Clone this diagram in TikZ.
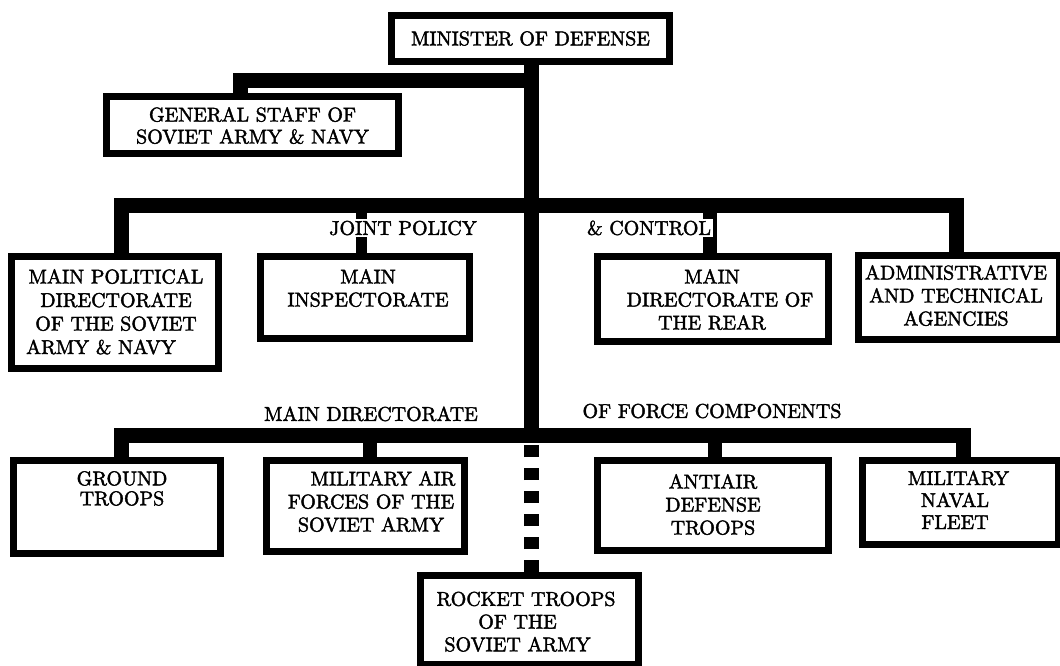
\documentclass[tikz,border=0pt]{standalone}
\usepackage{fontspec}
\newfontfamily\orgfont{lmroman10-regular.otf}[FakeBold=2]
\begin{document}
\begin{tikzpicture}[x=1pt,y=-1pt,
  box/.style={draw,line width=7pt,inner sep=0pt,rectangle,fill=white},
  txt/.style={font=\orgfont\fontsize{20}{23}\selectfont,align=center,inner sep=0pt,anchor=north},
  lbl/.style={font=\orgfont\fontsize{20}{23}\selectfont,inner sep=0pt,text height=13.7pt,text depth=0pt},
  bar/.style={line width=15pt,line join=miter,line cap=butt},
  link/.style={line width=14pt,line cap=butt}]
\useasboundingbox (0,0) rectangle (1060,666);
\clip (0,0) rectangle (1060,666);
\fill[white] (0,0) rectangle (1060,666);

% boxes
\node[box,minimum width=278pt,minimum height=46pt,font=\orgfont\fontsize{20}{23}\selectfont] (min) at (530.5,38.5) {MINISTER OF DEFENSE};
\node[box,minimum width=292pt,minimum height=57pt] (gs) at (252.5,125) {};
\node[box,minimum width=207pt,minimum height=112pt] (mpd) at (115,312.5) {};
\node[box,minimum width=209pt,minimum height=82pt] (mi) at (365,297.5) {};
\node[box,minimum width=231pt,minimum height=85pt] (rear) at (713,299) {};
\node[box,minimum width=201pt,minimum height=84pt] (admin) at (959,297.5) {};
\node[box,minimum width=207pt,minimum height=93pt] (gt) at (117,507) {};
\node[box,minimum width=198pt,minimum height=91pt] (af) at (365.5,506) {};
\node[box,minimum width=231pt,minimum height=90pt] (aa) at (713,505.5) {};
\node[box,minimum width=196pt,minimum height=84pt] (nf) at (960.5,502.5) {};
\node[box,minimum width=218pt,minimum height=89pt] (rt) at (529.5,620) {};

% box texts
\node[txt,font=\orgfont\fontsize{20}{22}\selectfont] (gs-t) at ([yshift=-14pt]gs.north) {GENERAL STAFF OF\\SOVIET ARMY \& NAVY};
\node[txt,font=\orgfont\fontsize{20}{23.5}\selectfont] (mpd-t) at ([xshift=1pt,yshift=-16pt]mpd.north) {MAIN POLITICAL\\DIRECTORATE\\OF THE SOVIET\\ARMY \& NAVY\hspace*{30pt}};
\node[txt] (mi-t) at ([xshift=3pt,yshift=-16pt]mi.north) {MAIN\\INSPECTORATE};
\node[txt] (rear-t) at ([xshift=-1pt,yshift=-16pt]rear.north) {MAIN\\\hspace*{16pt}DIRECTORATE OF\\THE REAR};
\node[txt] (admin-t) at ([xshift=-3pt,yshift=-13pt]admin.north) {ADMINISTRATIVE\\AND TECHNICAL\\AGENCIES};
\node[txt,font=\orgfont\fontsize{20}{20}\selectfont] (gt-t) at ([xshift=5pt,yshift=-14pt]gt.north) {GROUND\\TROOPS};
\node[txt] (af-t) at ([xshift=5.5pt,yshift=-14pt]af.north) {\hspace*{24pt}MILITARY AIR\\FORCES OF THE\\SOVIET ARMY};
\node[txt] (aa-t) at ([yshift=-17pt]aa.north) {ANTIAIR\\DEFENSE\\TROOPS};
\node[txt,font=\orgfont\fontsize{20}{22}\selectfont] (nf-t) at ([xshift=-5.5pt,yshift=-13.5pt]nf.north) {\hspace*{7pt}MILITARY\\NAVAL\\FLEET};
\node[txt,font=\orgfont\fontsize{20}{22.75}\selectfont] (rt-t) at ([xshift=-12pt,yshift=-19.5pt]rt.north) {\hspace*{17pt}ROCKET TROOPS\\OF THE\\SOVIET ARMY};

% junctions on the trunk
\coordinate (j1) at (531.5,80.5);
\coordinate (j2) at (531.5,205.5);
\coordinate (j3) at (531.5,435);

% connectors
\draw[bar] (min.south -| j1) -- (j3);
\draw[bar] ([xshift=-12pt]gs.north) |- (j1);
\draw[bar] ([xshift=6pt]mpd.north) |- (j2) -| ([xshift=-3pt]admin.north);
\draw[line width=11pt] ([xshift=-3.5pt]mi.north) -- ([xshift=-3.5pt]mi.north |- j2);
\draw[link] ([xshift=-3pt]rear.north) -- ([xshift=-3pt]rear.north |- j2);
\draw[bar] ([xshift=4pt]gt.north) |- (j3) -| ([xshift=3pt]nf.north);
\draw[link] ([xshift=4.5pt]af.north) -- ([xshift=4.5pt]af.north |- j3);
\draw[link] ([xshift=2pt]aa.north) -- ([xshift=2pt]aa.north |- j3);
\draw[line width=15pt,dash pattern=on 12pt off 11pt] ([xshift=2pt]rt.north) -- ([xshift=2pt,yshift=-7.5pt]rt.north |- j3);

% labels
\node[lbl,fill=white,inner sep=2pt] (jp) at (403,228) {JOINT POLICY};
\node[lbl,fill=white,inner sep=2pt] (ctl) at (649,228) {\& CONTROL};
\node[lbl] (md) at (371,414) {MAIN DIRECTORATE};
\node[lbl] (ofc) at (712,411) {OF FORCE COMPONENTS};
\end{tikzpicture}
\end{document}
